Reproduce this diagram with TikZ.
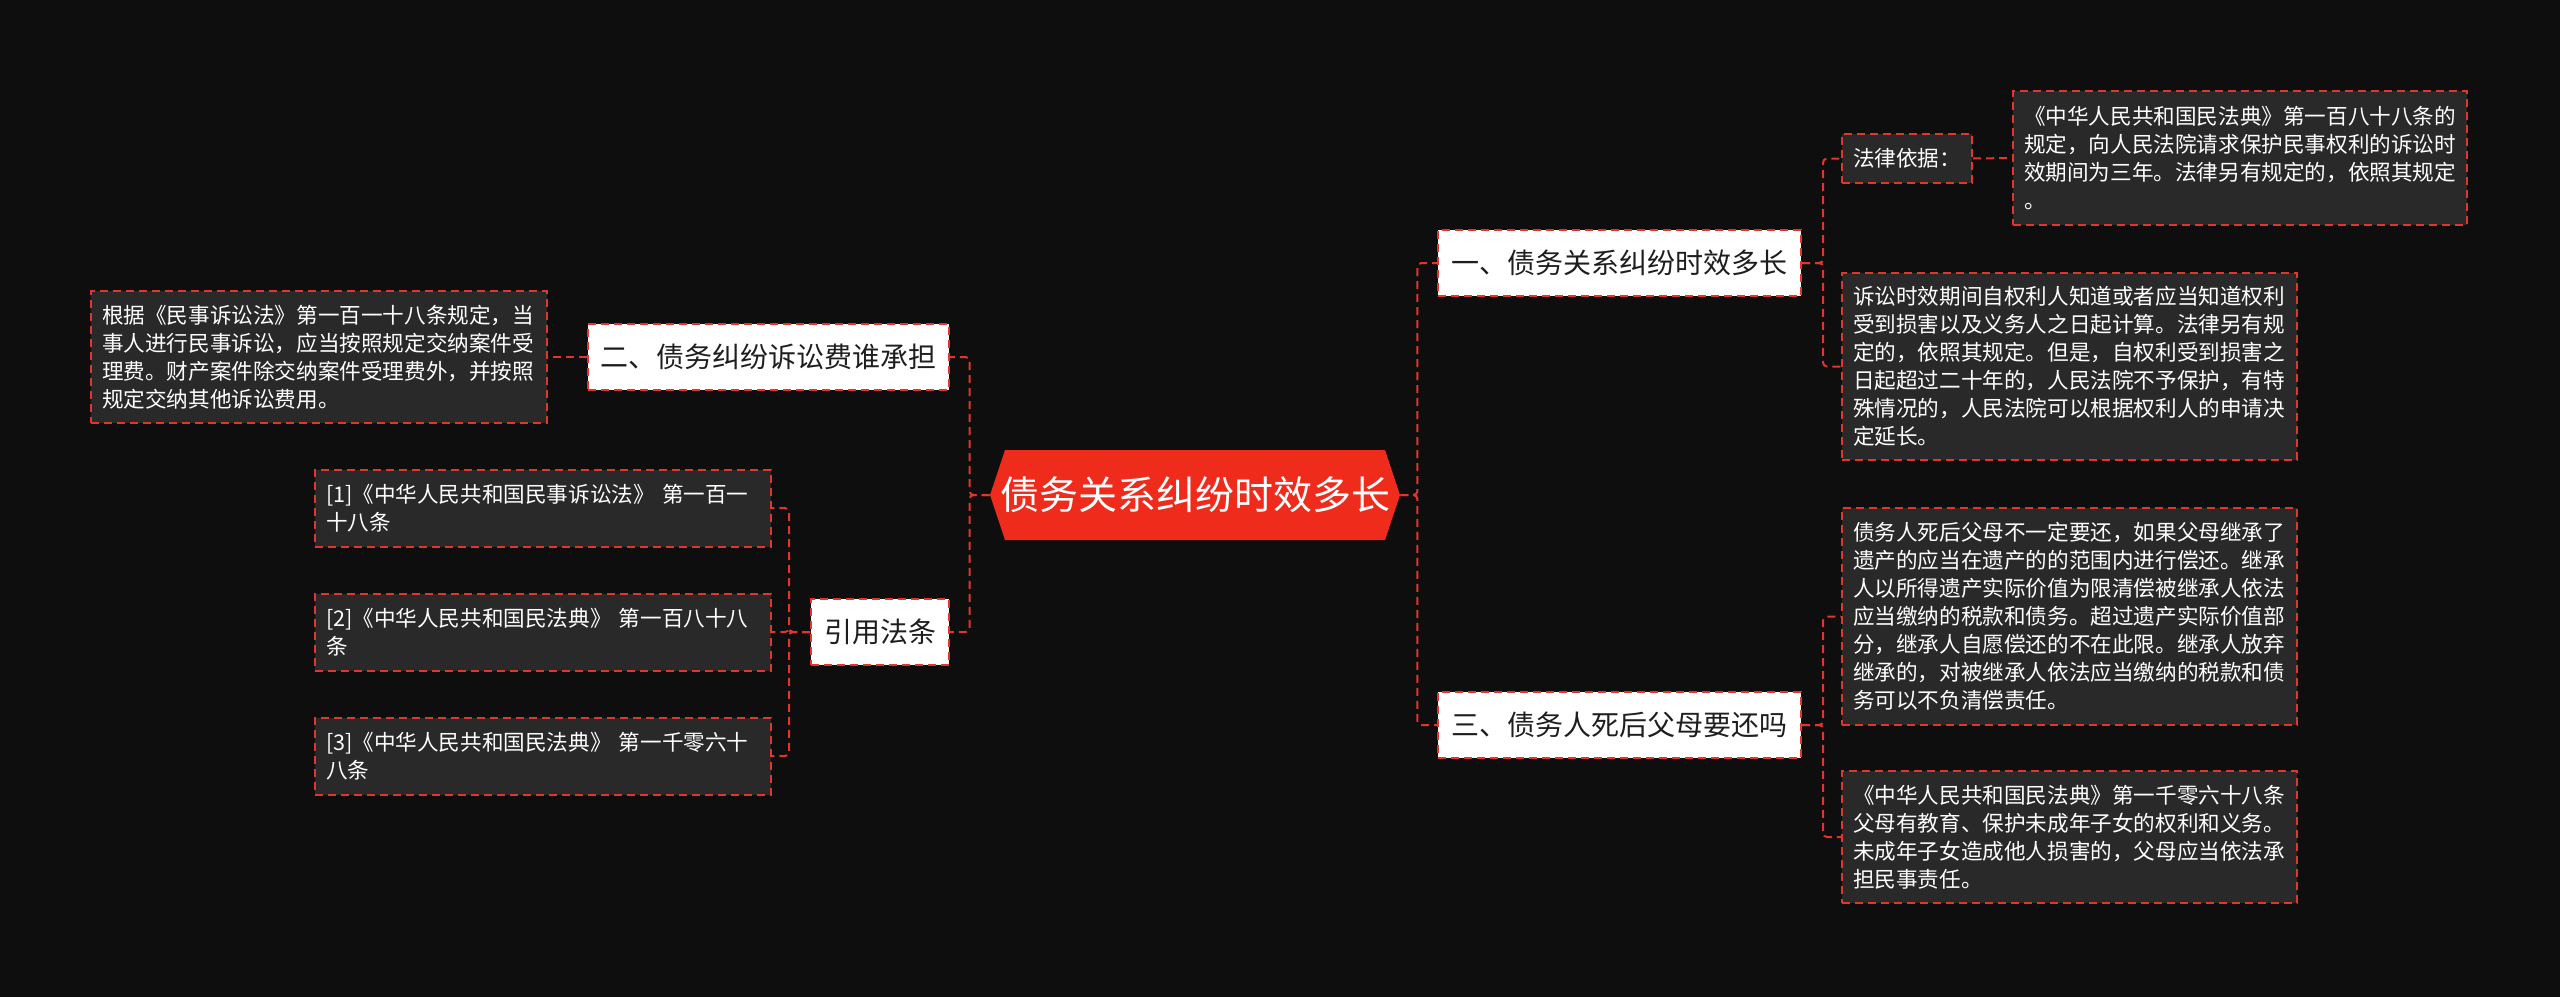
\documentclass[tikz,border=0pt]{standalone}
\usepackage{fontspec}
\setmainfont{Noto Sans CJK SC}
\usetikzlibrary{calc}
\definecolor{bg}{HTML}{0E0E0E}
\definecolor{leaf}{HTML}{292929}
\definecolor{rline}{HTML}{E2352B}
\definecolor{cred}{HTML}{EF2B1C}
\definecolor{dark}{HTML}{1E1E1E}
\begin{document}
\begin{tikzpicture}[x=0.5pt,y=-0.5pt,
  dsh/.style={dash pattern=on 4pt off 2.5pt},
  conn/.style={draw=rline,line width=1pt,dsh,rounded corners=2pt},
  leafbox/.style={draw=rline,line width=1pt,dsh,fill=leaf,text=white,align=left,
    inner xsep=5.5pt,inner ysep=0pt,font=\fontsize{10.8pt}{14pt}\selectfont,anchor=center},
  topic/.style={draw=rline,line width=1pt,dsh,fill=white,text=dark,
    font=\fontsize{14pt}{17pt}\selectfont,inner sep=0pt,anchor=center,minimum height=33pt},
]
\fill[bg] (0,0) rectangle (2560,997);
\useasboundingbox (0,0) rectangle (2560,997);

% central
\coordinate (cc) at (1195,495);
\fill[cred] ($(cc)+(-205,0)$) -- ($(cc)+(-190,-45)$) -- ($(cc)+(190,-45)$) -- ($(cc)+(205,0)$) -- ($(cc)+(190,45)$) -- ($(cc)+(-190,45)$) -- cycle;
\node[minimum width=205pt,minimum height=45pt,inner sep=0pt,text=white,
  font=\fontsize{19.5pt}{24pt}\selectfont] (c) at (cc) {债务关系纠纷时效多长};

% level 1
\node[topic,minimum width=181.5pt] (n1) at (1619.5,263) {一、债务关系纠纷时效多长};
\node[topic,minimum width=181.5pt] (n3) at (1619.5,725) {三、债务人死后父母要还吗};
\node[topic,minimum width=180.5pt] (n2) at (768.5,357) {二、债务纠纷诉讼费谁承担};
\node[topic,minimum width=69pt] (n4) at (880,632) {引用法条};

% leaves left
\node[leafbox,text width=217pt,minimum height=66pt] (lb) at (319,357) {根据《民事诉讼法》第一百一十八条规定，当\\事人进行民事诉讼，应当按照规定交纳案件受\\理费。财产案件除交纳案件受理费外，并按照\\规定交纳其他诉讼费用。};
\node[leafbox,text width=217pt,minimum height=38.5pt] (r1) at (543,508) {[1]《中华人民共和国民事诉讼法》 第一百一\\十八条};
\node[leafbox,text width=217pt,minimum height=38.5pt] (r2) at (543,632) {[2]《中华人民共和国民法典》 第一百八十八\\条};
\node[leafbox,text width=217pt,minimum height=38.5pt] (r3) at (543,756) {[3]《中华人民共和国民法典》 第一千零六十\\八条};

% leaves right
\node[leafbox,minimum width=65pt,minimum height=24.5pt,inner xsep=0pt] (l1) at (1907,158.5) {法律依据：};
\node[leafbox,text width=216pt,minimum height=67pt] (l1c) at (2240,158) {《中华人民共和国民法典》第一百八十八条的\\规定，向人民法院请求保护民事权利的诉讼时\\效期间为三年。法律另有规定的，依照其规定\\。};
\node[leafbox,text width=216.5pt,minimum height=93.5pt] (l2) at (2069.5,366.5) {诉讼时效期间自权利人知道或者应当知道权利\\受到损害以及义务人之日起计算。法律另有规\\定的，依照其规定。但是，自权利受到损害之\\日起超过二十年的，人民法院不予保护，有特\\殊情况的，人民法院可以根据权利人的申请决\\定延长。};
\node[leafbox,text width=216.5pt,minimum height=108.5pt] (l3) at (2069.5,616.5) {债务人死后父母不一定要还，如果父母继承了\\遗产的应当在遗产的的范围内进行偿还。继承\\人以所得遗产实际价值为限清偿被继承人依法\\应当缴纳的税款和债务。超过遗产实际价值部\\分，继承人自愿偿还的不在此限。继承人放弃\\继承的，对被继承人依法应当缴纳的税款和债\\务可以不负清偿责任。};
\node[leafbox,text width=216.5pt,minimum height=66pt] (l4) at (2069.5,837) {《中华人民共和国民法典》第一千零六十八条\\父母有教育、保护未成年子女的权利和义务。\\未成年子女造成他人损害的，父母应当依法承\\担民事责任。};

% connectors
\draw[conn] (c.east) -- ++(17,0) |- (n1.west);
\draw[conn] (c.east) -- ++(17,0) |- (n3.west);
\draw[conn] (c.west) -- ++(-20,0) |- (n2.east);
\draw[conn] (c.west) -- ++(-20,0) |- (n4.east);
\draw[conn] (n1.east) -- ++(21,0) |- (l1.west);
\draw[conn] (n1.east) -- ++(21,0) |- (l2.west);
\draw[conn] (l1.east) -- (l1c.west);
\draw[conn] (n3.east) -- ++(21,0) |- (l3.west);
\draw[conn] (n3.east) -- ++(21,0) |- (l4.west);
\draw[conn] (n2.west) -- (lb.east);
\draw[conn] (n4.west) -- ++(-21,0) |- (r1.east);
\draw[conn] (n4.west) -- ++(-21,0) |- (r2.east);
\draw[conn] (n4.west) -- ++(-21,0) |- (r3.east);
\end{tikzpicture}
\end{document}
